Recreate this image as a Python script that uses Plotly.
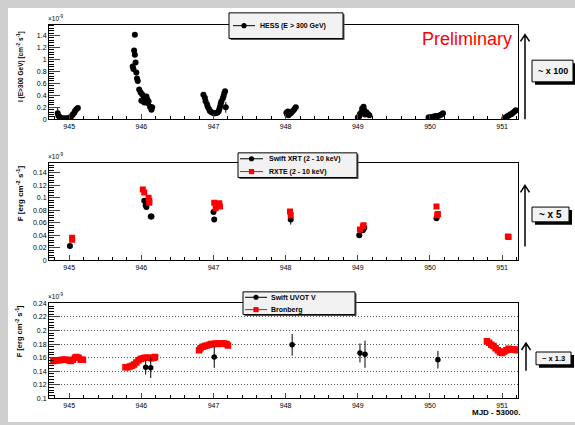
import plotly.graph_objects as go

W, H = 575, 425

# ---------------- data (flux in units of 1e-9) ----------------
# H.E.S.S. integral flux I(E > 300 GeV), MJD - 53000
hess_x = [944.84, 944.85, 944.87, 944.89, 944.91, 944.93, 944.95, 944.97, 944.99, 945.01,
          945.03, 945.05, 945.07, 945.08, 945.10, 945.12,
          945.88, 945.89, 945.90, 945.91, 945.91, 945.92, 945.93, 945.94, 945.95, 945.97,
          945.99, 946.00, 946.01, 946.02, 946.03, 946.04, 946.05, 946.07, 946.08, 946.09,
          946.10, 946.12, 946.14, 946.15,
          946.86, 946.88, 946.89, 946.91, 946.92, 946.94, 946.95, 946.97, 946.99, 947.01,
          947.03, 947.05, 947.07, 947.08, 947.09, 947.10, 947.11, 947.13, 947.14, 947.15,
          947.16, 947.17,
          948.01, 948.02, 948.03, 948.04, 948.05, 948.07, 948.08, 948.10, 948.12, 948.14,
          949.00, 949.02, 949.03, 949.05, 949.06, 949.08, 949.09, 949.10, 949.12, 949.14,
          949.16,
          949.98, 950.00, 950.02, 950.04, 950.06, 950.08, 950.10, 950.12, 950.14, 950.16,
          950.18,
          951.03, 951.05, 951.07, 951.09, 951.11, 951.13, 951.15, 951.17, 951.19]
hess_y = [0.10, 0.06, 0.04, 0.02, 0.01, 0.02, 0.01, 0.02, 0.02, 0.03,
          0.05, 0.08, 0.11, 0.14, 0.17, 0.19,
          0.88, 0.84, 1.15, 1.41, 1.08, 0.95, 0.78, 0.68, 0.64, 0.50,
          0.45, 0.31, 0.42, 0.32, 0.39, 0.28, 0.36, 0.38, 0.34, 0.27,
          0.30, 0.21, 0.16, 0.20,
          0.41, 0.36, 0.30, 0.25, 0.21, 0.17, 0.14, 0.12, 0.11, 0.10,
          0.10, 0.11, 0.13, 0.17, 0.21, 0.26, 0.30, 0.35, 0.39, 0.44,
          0.47, 0.20,
          0.11, 0.08, 0.13, 0.07, 0.09, 0.10, 0.12, 0.14, 0.17, 0.20,
          0.03, 0.05, 0.09, 0.12, 0.18, 0.21, 0.15, 0.08, 0.12, 0.09,
          0.07,
          0.03, 0.04, 0.03, 0.04, 0.05, 0.05, 0.05, 0.06, 0.07, 0.08,
          0.10,
          0.02, 0.03, 0.05, 0.06, 0.08, 0.09, 0.11, 0.13, 0.15]
hess_err = [0.10] + [0.02] * 60 + [0.09] + [0.02] * 41

# Swift XRT and RXTE (2 - 10 keV) energy flux
xrt_x = [945.01, 946.04, 946.06, 946.07, 946.13, 946.14, 947.00, 947.01, 948.07,
         949.02, 949.07, 949.09, 950.09]
xrt_y = [0.023, 0.095, 0.088, 0.085, 0.070, 0.070, 0.077, 0.065, 0.065,
         0.040, 0.048, 0.052, 0.067]
xrt_err = [0.002, 0.003, 0.003, 0.003, 0.002, 0.002, 0.003, 0.002, 0.008,
           0.002, 0.002, 0.002, 0.003]

rxte_x = [945.04, 945.04, 946.02, 946.04, 946.10, 946.11, 946.11, 947.01, 947.03, 947.08,
          947.09, 948.06, 948.07, 949.03, 949.07, 949.08, 950.09, 950.11, 950.10, 951.08,
          951.09]
rxte_y = [0.033, 0.036, 0.113, 0.108, 0.100, 0.095, 0.092, 0.092, 0.083, 0.091,
          0.086, 0.078, 0.072, 0.049, 0.054, 0.056, 0.086, 0.074, 0.072, 0.038,
          0.037]

# Swift UVOT V and Bronberg optical flux
uvot_x = [946.06, 946.13, 947.01, 948.09, 949.03, 949.10, 950.11]
uvot_y = [0.146, 0.145, 0.161, 0.179, 0.167, 0.165, 0.157]
uvot_err = [0.011, 0.015, 0.016, 0.016, 0.014, 0.020, 0.013]

bron_x = [944.78, 944.81, 944.84, 944.87, 944.90, 944.93, 944.96, 944.99, 945.02, 945.05,
          945.08, 945.10, 945.13, 945.16, 945.19,
          945.78, 945.81, 945.84, 945.87, 945.90, 945.93, 945.96, 945.99, 946.02, 946.05,
          946.08, 946.11, 946.14, 946.17, 946.19,
          946.80, 946.82, 946.85, 946.88, 946.91, 946.94, 946.97, 947.00, 947.03, 947.06,
          947.09, 947.12, 947.15, 947.18, 947.20,
          950.79, 950.82, 950.85, 950.88, 950.91, 950.94, 950.97, 951.00, 951.03, 951.06,
          951.09, 951.12, 951.15, 951.18, 951.21]
bron_y = [0.155, 0.156, 0.156, 0.156, 0.157, 0.157, 0.157, 0.156, 0.155, 0.157,
          0.160, 0.161, 0.160, 0.157, 0.157,
          0.146, 0.146, 0.147, 0.148, 0.150, 0.153, 0.156, 0.158, 0.159, 0.160,
          0.160, 0.160, 0.159, 0.160, 0.161,
          0.171, 0.174, 0.176, 0.177, 0.178, 0.179, 0.180, 0.180, 0.181, 0.180,
          0.181, 0.181, 0.181, 0.180, 0.178,
          0.184, 0.182, 0.179, 0.177, 0.174, 0.171, 0.168, 0.167, 0.169, 0.171,
          0.173, 0.172, 0.172, 0.172, 0.171]

x_range = [944.72, 951.22]
y_ranges = [[0, 1.58], [0, 0.1557], [0.1, 0.241]]
y_dticks = [0.2, 0.02, 0.02]
y_minor = [0.04, 0.004, 0.004]
scale_factors = ["~ x 100", "~ x 5", "~ x 1.3"]

FONT = "Liberation Sans, Arial, Helvetica, sans-serif"


def px(x):
    return x / W


def py(y):
    return 1 - y / H


# panel frames in pixels: (top, bottom)
panels = [(22, 118), (162, 261), (304, 401)]
X0, X1 = 49, 518

fig = go.Figure()

fig.add_trace(go.Scatter(
    x=hess_x, y=hess_y, mode="markers", xaxis="x", yaxis="y",
    marker=dict(color="black", size=6),
    error_y=dict(type="data", array=hess_err, color="black", thickness=1, width=0),
    showlegend=False))
fig.add_trace(go.Scatter(
    x=xrt_x, y=xrt_y, mode="markers", xaxis="x2", yaxis="y2",
    marker=dict(color="black", size=6),
    error_y=dict(type="data", array=xrt_err, color="black", thickness=1, width=0),
    showlegend=False))
fig.add_trace(go.Scatter(
    x=rxte_x, y=rxte_y, mode="markers", xaxis="x2", yaxis="y2",
    marker=dict(color="#ff0000", size=6, symbol="square"),
    showlegend=False))
fig.add_trace(go.Scatter(
    x=bron_x, y=bron_y, mode="markers", xaxis="x3", yaxis="y3",
    marker=dict(color="#ff0000", size=6.5, symbol="square"),
    showlegend=False))
fig.add_trace(go.Scatter(
    x=uvot_x, y=uvot_y, mode="markers", xaxis="x3", yaxis="y3",
    marker=dict(color="black", size=5.5),
    error_y=dict(type="data", array=uvot_err, color="black", thickness=1, width=0),
    showlegend=False))

layout = dict(
    width=W, height=H,
    margin=dict(l=0, r=0, t=0, b=0),
    paper_bgcolor="#cfcfcf",
    plot_bgcolor="white",
    font=dict(family=FONT, color="black", size=7),
    showlegend=False,
)

for i, (top, bot) in enumerate(panels):
    sfx = "" if i == 0 else str(i + 1)
    layout["xaxis" + sfx] = dict(
        domain=[px(X0), px(X1)], anchor="y" + sfx, range=x_range,
        showline=True, linecolor="black", linewidth=1, mirror=True,
        ticks="inside", ticklen=5, tickwidth=1, tick0=945, dtick=1,
        minor=dict(ticks="inside", ticklen=3, dtick=0.2, tickcolor="black"),
        showgrid=False, zeroline=False,
        tickfont=dict(size=7, family=FONT),
    )
    layout["yaxis" + sfx] = dict(
        domain=[py(bot), py(top)], anchor="x" + sfx, range=y_ranges[i],
        showline=True, linecolor="black", linewidth=1, mirror=True,
        ticks="inside", ticklen=11, tickwidth=1, dtick=y_dticks[i], tick0=0,
        minor=dict(ticks="inside", ticklen=5, dtick=y_minor[i], tickcolor="black"),
        showgrid=(i == 2), gridcolor="#555555", griddash="1px,2px", gridwidth=1,
        zeroline=False,
        tickfont=dict(size=7, family=FONT),
    )

shapes = [
    # white canvas area
    dict(type="rect", xref="paper", yref="paper", x0=px(8), x1=1, y0=0, y1=py(5),
         fillcolor="white", line=dict(width=0), layer="below"),
]
annotations = []

# y axis titles and exponent labels
y_titles = ["<b>I (E&gt;300 GeV) [cm<sup>-2</sup> s<sup>-1</sup>]</b>",
            "<b>F [erg cm<sup>-2</sup> s<sup>-1</sup>]</b>",
            "<b>F [erg cm<sup>-2</sup> s<sup>-1</sup>]</b>"]
y_title_pos = [(20, 65, 6.5), (20, 193, 8), (19, 333, 7.5)]
for (tx, ty, fs), t in zip(y_title_pos, y_titles):
    annotations.append(dict(text=t, x=px(tx), y=py(ty), xref="paper", yref="paper",
                            textangle=-90, showarrow=False, font=dict(size=fs),
                            xanchor="center", yanchor="middle"))
for top, _ in panels:
    annotations.append(dict(text="\u00d710<sup>-9</sup>", x=px(46), y=py(top - 1),
                            xref="paper", yref="paper", showarrow=False,
                            xanchor="left", yanchor="bottom", font=dict(size=6.5)))

# legends drawn as boxed keys
legends = [
    dict(box=(229, 10, 343, 36), line=(233, 255), text_x=258,
         entries=[("HESS (E > 300 GeV)", "black", "circle", 23)]),
    dict(box=(238, 152, 357, 177), line=(240, 263), text_x=267,
         entries=[("Swift XRT (2 - 10 keV)", "black", "circle", 158),
                  ("RXTE (2 - 10 keV)", "#ff0000", "square", 171)]),
    dict(box=(243, 293, 355, 316), line=(245, 267), text_x=269,
         entries=[("Swift UVOT V", "black", "circle", 298.5),
                  ("Bronberg", "#ff0000", "square", 311)]),
]
for lg in legends:
    bx0, by0, bx1, by1 = lg["box"]
    shapes.append(dict(type="rect", xref="paper", yref="paper",
                       x0=px(bx0 + 1.5), x1=px(bx1 + 1.5), y0=py(by1 + 1.5), y1=py(by0 + 1.5),
                       fillcolor="#555555", line=dict(width=0)))
    shapes.append(dict(type="rect", xref="paper", yref="paper",
                       x0=px(bx0), x1=px(bx1), y0=py(by1), y1=py(by0),
                       fillcolor="#f2f2f2", line=dict(color="black", width=1)))
    lx0, lx1 = lg["line"]
    for label, col, sym, ey in lg["entries"]:
        shapes.append(dict(type="line", xref="paper", yref="paper",
                           x0=px(lx0), x1=px(lx1), y0=py(ey), y1=py(ey),
                           line=dict(color=col, width=1)))
        cx = (lx0 + lx1) / 2
        r = 2.6
        shapes.append(dict(type="circle" if sym == "circle" else "rect",
                           xref="paper", yref="paper",
                           x0=px(cx - r), x1=px(cx + r), y0=py(ey + r), y1=py(ey - r),
                           fillcolor=col, line=dict(color=col, width=0)))
        annotations.append(dict(text="<b>%s</b>" % label, x=px(lg["text_x"]), y=py(ey),
                                xref="paper", yref="paper", showarrow=False,
                                xanchor="left", yanchor="middle", font=dict(size=7)))

# scale arrows and factor boxes on the right
arrows = [(525, 32, 118), (525, 185, 247), (526, 345, 373)]
for ax_, ytop, ybot in arrows:
    path = "M %f,%f L %f,%f M %f,%f L %f,%f L %f,%f" % (
        px(ax_), py(ybot), px(ax_), py(ytop),
        px(ax_ - 4.5), py(ytop + 7), px(ax_), py(ytop), px(ax_ + 4.5), py(ytop + 7))
    shapes.append(dict(type="path", xref="paper", yref="paper", path=path,
                       line=dict(color="black", width=1.5)))

boxes = [((532, 58, 573, 80), 9), ((532, 207, 569, 222), 10), ((536, 354, 571, 367), 7.5)]
for ((bx0, by0, bx1, by1), fs), txt in zip(boxes, scale_factors):
    shapes.append(dict(type="rect", xref="paper", yref="paper",
                       x0=px(bx0 + 3), x1=px(bx1 + 3), y0=py(by1 + 3), y1=py(by0 + 3),
                       fillcolor="black", line=dict(width=0)))
    shapes.append(dict(type="rect", xref="paper", yref="paper",
                       x0=px(bx0), x1=px(bx1), y0=py(by1), y1=py(by0),
                       fillcolor="#f2f2f2", line=dict(color="black", width=1)))
    annotations.append(dict(text="<b>%s</b>" % txt, x=px((bx0 + bx1) / 2), y=py((by0 + by1) / 2),
                            xref="paper", yref="paper", showarrow=False,
                            xanchor="center", yanchor="middle", font=dict(size=fs)))

annotations.append(dict(text="Preliminary", x=px(467), y=py(37), xref="paper", yref="paper",
                        showarrow=False, xanchor="center", yanchor="middle",
                        font=dict(size=18, color="#ff0000")))
annotations.append(dict(text="<b>MJD - 53000.</b>", x=px(522), y=py(415), xref="paper",
                        yref="paper", showarrow=False, xanchor="right", yanchor="middle",
                        font=dict(size=8)))

layout["shapes"] = shapes
layout["annotations"] = annotations
fig.update_layout(**layout)
fig.write_html("out.html")
